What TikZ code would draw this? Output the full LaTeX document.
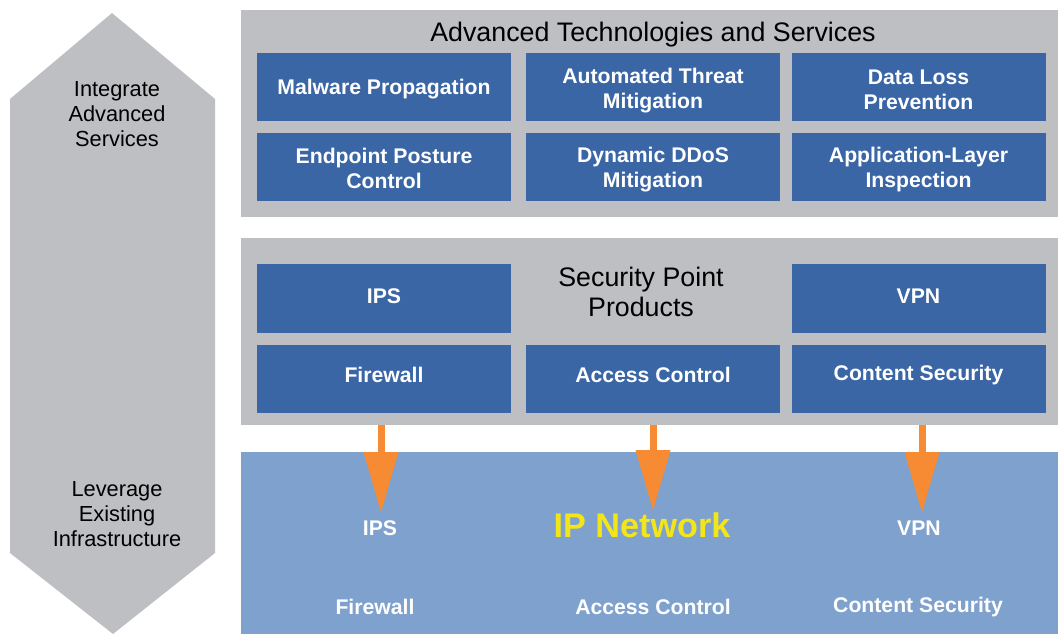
\documentclass[tikz,border=0pt]{standalone}
\usepackage{fontspec}
\setmainfont{Liberation Sans}
\usetikzlibrary{arrows.meta}
\definecolor{panelgray}{HTML}{BEBFC2}
\definecolor{boxblue}{HTML}{3A66A6}
\definecolor{netblue}{HTML}{7FA1CD}
\definecolor{arroworange}{HTML}{F68B33}
\definecolor{ipyellow}{HTML}{F2E51A}
\tikzset{
  panel/.style={fill=panelgray, draw=none, inner sep=0pt, outer sep=0pt, minimum width=817pt},
  bluebox/.style={fill=boxblue, draw=none, inner sep=0pt, outer sep=0pt, minimum width=254pt, minimum height=68pt},
  boxtext/.style={text=white, align=center, font=\bfseries\fontsize{21.2}{25}\selectfont, inner sep=0pt},
  netlabel/.style={text=white, align=center, font=\bfseries\fontsize{21.2}{25}\selectfont, inner sep=0pt},
  heading/.style={text=black, align=center, font=\fontsize{26.8}{30}\selectfont, inner sep=0pt},
  sidelabel/.style={text=black, align=center, font=\fontsize{21.8}{25}\selectfont, inner sep=0pt},
  flow/.style={arroworange, line width=7pt, -{Triangle[width=35pt,length=60pt,line width=0pt]}}
}
\begin{document}
\begin{tikzpicture}[x=1pt,y=-1pt]
\useasboundingbox (0,0) rectangle (1058,634);
% left double-headed shape
\fill[panelgray] (112,13) -- (215,99) -- (215,553) -- (113,634) -- (10,553) -- (10,99) -- cycle;
\node[sidelabel] (integ) at (117,114) {Integrate\\Advanced\\Services};
\node[sidelabel] (lever) at (117,514.5) {Leverage\\Existing\\Infrastructure};
% panels
\node[panel, minimum height=207pt] (top) at (649.5,113.5) {};
\node[panel, minimum height=187pt] (mid) at (649.5,331.5) {};
\node[panel, minimum height=182pt, fill=netblue] (net) at (649.5,543) {};
% top panel
\node[heading] (title) at (653,34.5) {Advanced Technologies and Services};
\node[bluebox] (mal) at (384,87) {};
\node[bluebox] (atm) at (653,87) {};
\node[bluebox] (dlp) at (918.5,87) {};
\node[bluebox] (epc) at (384,167) {};
\node[bluebox] (ddos) at (653,167) {};
\node[bluebox] (ali) at (918.5,167) {};
\node[boxtext] (malt) at ([yshift=-2pt]mal.center) {Malware Propagation};
\node[boxtext] (atmt) at ([yshift=-4pt]atm.center) {Automated Threat\\Mitigation};
\node[boxtext] (dlpt) at ([yshift=-3pt]dlp.center) {Data Loss\\Prevention};
\node[boxtext] (epct) at ([yshift=-1pt]epc.center) {Endpoint Posture\\Control};
\node[boxtext] (ddost) at ([yshift=-3pt]ddos.center) {Dynamic DDoS\\Mitigation};
\node[boxtext] (alit) at ([yshift=-3pt]ali.center) {Application-Layer\\Inspection};
% middle panel
\node[heading] (spp) at (641,292) {Security Point\\Products};
\node[bluebox, minimum height=69pt] (ips) at (384,298.5) {};
\node[bluebox, minimum height=69pt] (vpn) at (918.5,298.5) {};
\node[bluebox] (fw) at (384,379) {};
\node[bluebox] (ac) at (653,379) {};
\node[bluebox] (cs) at (918.5,379) {};
\node[boxtext] (ipst) at ([yshift=2pt]ips.center) {IPS};
\node[boxtext] (vpnt) at ([yshift=2pt]vpn.center) {VPN};
\node[boxtext] (fwt) at ([yshift=4pt]fw.center) {Firewall};
\node[boxtext] (act) at ([yshift=4pt]ac.center) {Access Control};
\node[boxtext] (cst) at ([yshift=3.5pt]cs.center) {Content Security};
% bottom panel
\node[text=ipyellow, font=\bfseries\fontsize{34.2}{36}\selectfont, inner sep=0pt] (ipn) at (642,525) {IP Network};
\node[netlabel] (nips) at (380,528) {IPS};
\node[netlabel] (nvpn) at (919,528) {VPN};
\node[netlabel] (nfw) at (375,607) {Firewall};
\node[netlabel] (nac) at (653,607) {Access Control};
\node[netlabel] (ncs) at (918,607) {Content Security};
% arrows
\coordinate (s1) at (mid.south -| 381,0);
\coordinate (s2) at (mid.south -| 653,0);
\coordinate (s3) at (mid.south -| 922,0);
\coordinate (e1) at (381,512);
\coordinate (e2) at (653,510);
\coordinate (e3) at (922,512);
\draw[flow] (s1) -- (e1);
\draw[flow] (s2) -- (e2);
\draw[flow] (s3) -- (e3);
\end{tikzpicture}
\end{document}
